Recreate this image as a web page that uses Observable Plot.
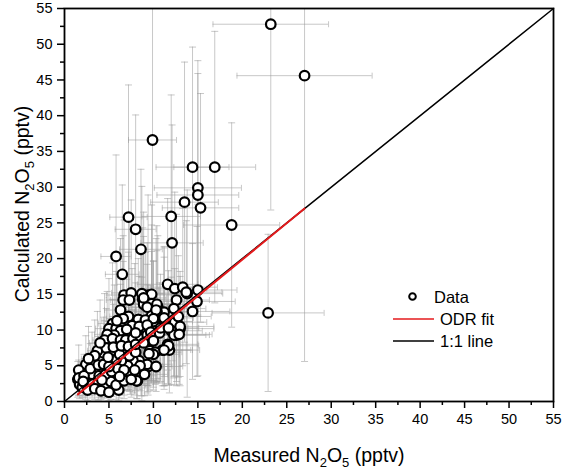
<!DOCTYPE html>
<html><head><meta charset="utf-8">
<script src="https://cdn.jsdelivr.net/npm/d3@7"></script>
<script src="https://cdn.jsdelivr.net/npm/@observablehq/plot@0.6"></script>
<style>
body{margin:0;background:#fff;}
#chart{width:565px;height:470px;}
</style>
</head><body><div id="chart"></div>
<script>
// Measured N2O5 (pptv)
const measured = [23.2,27.0,9.9,14.4,16.9,15.0,15.0,13.5,15.3,18.8,7.2,8.0,8.6,12.0,12.1,5.8,6.5,22.9,
11.6,12.4,13.3,13.8,15.0,6.7,7.5,6.6,7.3,8.8,9.4,9.8,8.7,8.9,9.8,10.5,11.2,12.6,14.4,14.9,6.3,10.4,
9.8,7.9,8.6,8.7,10.0,11.2,12.4,13.0,12.6,5.4,5.0,5.8,6.3,5.6,4.8,4.5,5.4,6.3,6.9,7.7,
8.6,9.3,11.6,11.8,11.0,9.6,10.2,8.4,7.7,9.4,8.7,7.1,6.4,6.9,5.2,4.4,3.7,3.1,2.4,1.6,
1.5,1.7,6.1,8.2,13.7,8.9,9.3,10.4,12.3,10.3,8.3,9.1,10.0,11.2,12.8,7.6,8.4,9.3,13.0,12.0,
9.7,7.2,6.6,5.9,7.0,12.3,12.9,11.7,11.2,10.0,9.5,9.3,8.5,7.4,8.1,1.6,2.4,3.1,3.8,4.5,
5.2,5.8,6.7,7.5,3.1,3.9,4.6,5.3,6.0,6.7,2.0,2.6,3.4,4.1,5.0,2.2,2.9,3.8,4.4,5.0,
5.8,6.2,7.3,8.0,4.7,5.5,6.4,7.2,8.0,8.9,10.0,10.7,3.4,2.7,4.0,4.9,8.0,10.8,11.7,9.0,
10.3,2.1,4.2,7.9,6.2];
// Calculated N2O5 (pptv)
const calculated = [52.8,45.6,36.6,32.8,32.8,29.9,28.9,27.9,27.1,24.7,25.8,24.1,21.3,25.9,22.2,20.3,17.8,12.4,
16.4,15.8,16.0,15.1,15.6,14.9,15.2,14.2,14.2,14.3,14.9,15.0,15.1,13.6,13.7,13.2,12.5,14.2,12.6,14.0,12.8,12.6,
12.0,11.3,11.3,10.4,11.2,11.2,11.1,10.2,9.3,10.9,10.2,10.2,9.9,9.3,9.4,8.6,8.8,8.6,8.6,8.8,
8.8,9.3,8.0,7.2,7.2,7.1,6.9,5.7,5.7,4.9,4.8,5.0,5.7,7.1,5.7,6.8,7.1,5.7,5.2,4.4,
3.1,2.4,1.6,2.9,15.3,14.5,13.2,13.6,13.0,12.8,11.5,11.4,11.6,11.7,11.9,10.6,10.5,10.7,10.5,9.9,
9.7,11.9,11.6,11.3,10.1,9.3,9.4,7.8,7.2,6.6,6.7,5.2,5.0,4.0,2.9,3.3,2.3,2.5,2.7,2.0,
2.8,2.3,2.9,3.1,3.8,3.6,3.8,4.2,4.6,4.4,2.0,1.6,1.8,1.5,1.3,3.6,4.6,5.1,5.2,4.9,
5.9,6.6,6.4,6.9,7.5,7.6,7.8,7.7,8.0,8.2,8.5,9.6,6.4,6.0,8.2,6.2,9.6,10.3,10.3,3.8,
4.9,2.8,3.0,4.4,3.5];
// Uncertainty of measured values (pptv)
const errMeasured = [6.5,7.6,2.7,4.1,4.6,4.9,4.6,3.8,4.3,5.4,2.1,2.3,2.4,3.3,3.5,1.7,1.9,6.3,
3.4,3.6,3.9,4.0,4.4,2.0,2.2,1.9,2.1,2.6,2.7,2.9,2.5,2.6,2.8,3.0,3.3,3.7,4.2,4.3,1.8,3.0,
2.8,2.3,2.5,2.5,2.9,3.2,3.6,3.8,3.7,1.6,1.5,1.7,1.8,1.6,1.4,1.3,1.6,1.8,2.0,2.2,
2.5,2.7,3.4,3.4,3.2,2.8,3.0,2.4,2.2,2.7,2.5,2.1,1.9,2.0,1.5,1.3,1.1,0.9,0.7,0.5,
0.5,0.5,1.8,2.4,4.0,2.6,2.7,3.0,3.6,3.0,2.4,2.6,2.9,3.3,3.7,2.2,2.4,2.7,3.8,3.5,
2.8,2.1,1.9,1.7,2.0,3.6,3.7,3.4,3.2,2.9,2.8,2.7,2.5,2.1,2.3,0.5,0.7,0.9,1.1,1.3,
1.5,1.7,2.0,2.2,0.9,1.1,1.3,1.5,1.7,1.9,0.6,0.8,1.0,1.2,1.5,0.6,0.8,1.1,1.3,1.5,
1.7,1.8,2.1,2.3,1.4,1.6,1.9,2.1,2.3,2.6,2.9,3.1,1.0,0.8,1.2,1.4,2.3,3.1,3.4,2.6,
3.0,0.6,1.2,2.3,1.8];
// Uncertainty of calculated values (pptv)
const errCalculated = [26,40,22,16.8,19,17.8,17,19.6,16,14.3,18.5,16,11.2,17,16.5,14.2,12.5,11,
12,13.5,11,14.5,12,10.5,13,9,11.5,10,14,12.5,15,9.5,11,10,9,12,9.5,10.5,10,8.5,
9,8,10.5,7,8.5,9,7.5,8,6.5,8.5,7,8,6.5,7,6,6.5,5.5,6,7,5.5,
6.5,7,5.5,6,5,5.5,4.5,4,4.5,3.5,4,3.5,4.5,5,4,5,5.5,4,4,3.5,
2.5,2,1.5,2.5,10,12,9,11,9.5,10,8.5,9.5,8,10,8.5,8,7,8.5,7,7.5,
6.5,9,8,9.5,7,6,7,5.5,5,5,4.5,4,3.5,3,2.5,2.5,2,2,2.5,1.5,
2.5,2,2.5,2.5,3,3,3,3.5,3.5,3.5,1.5,1.5,1.5,1.2,1.2,3,3.5,4,4,4,
4.5,5,5,5,5.5,6,6,6,6.5,6,6.5,7,5,4.5,6,5,7,7.5,8,3,
3.5,2,2.5,3.5,3];
// ODR fit endpoints and 1:1 line
const fitX = [1.5, 27.0];
const fitY = [1.0, 27.0];
const oneToOne = [0, 55];
const majorTicks = [0,5,10,15,20,25,30,35,40,45,50,55];
const minorTicks = [2.5,7.5,12.5,17.5,22.5,27.5,32.5,37.5,42.5,47.5,52.5];
const legendLabels = ["Data", "ODR fit", "1:1 line"];
const xTitleParts = [["Measured N",0],["2",1],["O",0],["5",1],[" (pptv)",0]];
const yTitleParts = [["Calculated N",0],["2",1],["O",0],["5",1],[" (pptv)",0]];

const pts = measured.map((x, i) => ({x, y: calculated[i], xe: errMeasured[i], ye: errCalculated[i]}));
const fitPts = fitX.map((x, i) => ({x, y: fitY[i]}));
const idPts = oneToOne.map(v => ({x: v, y: v}));

const hcap = {draw(ctx) { ctx.moveTo(-3.5, 0); ctx.lineTo(3.5, 0); }};
const vcap = {draw(ctx) { ctx.moveTo(0, -3); ctx.lineTo(0, 3); }};
const errStyle = {stroke: "#9a9a9a", strokeOpacity: 0.55, strokeWidth: 1, clip: true};

const plot = Plot.plot({
  width: 565, height: 470,
  marginLeft: 64, marginRight: 12, marginTop: 8, marginBottom: 69,
  style: {fontFamily: "'Liberation Sans', Arial, sans-serif", fontSize: "14.5px", color: "black", background: "white"},
  x: {domain: [0, 55]},
  y: {domain: [0, 55]},
  marks: [
    Plot.ruleX(pts, {x: "x", y1: d => d.y - d.ye, y2: d => d.y + d.ye, ...errStyle}),
    Plot.ruleY(pts, {y: "y", x1: d => d.x - d.xe, x2: d => d.x + d.xe, ...errStyle}),
    Plot.dot(pts, {x: "x", y: d => d.y + d.ye, symbol: hcap, fill: "none", ...errStyle}),
    Plot.dot(pts, {x: "x", y: d => d.y - d.ye, symbol: hcap, fill: "none", ...errStyle}),
    Plot.dot(pts, {x: d => d.x - d.xe, y: "y", symbol: vcap, fill: "none", ...errStyle}),
    Plot.dot(pts, {x: d => d.x + d.xe, y: "y", symbol: vcap, fill: "none", ...errStyle}),
    Plot.dot(pts, {x: "x", y: "y", r: 4.8, stroke: "black", strokeWidth: 2.2, fill: "white"}),
    Plot.line(idPts, {x: "x", y: "y", stroke: "black", strokeWidth: 1.5}),
    Plot.line(fitPts, {x: "x", y: "y", stroke: "#e41a1c", strokeWidth: 2}),
    Plot.axisX({ticks: minorTicks, tickSize: 4, tickFormat: () => "", strokeWidth: 1.5, label: null}),
    Plot.axisY({ticks: minorTicks, tickSize: 4, tickFormat: () => "", strokeWidth: 1.5, label: null}),
    Plot.axisX({ticks: majorTicks, tickSize: 7, tickPadding: 5, strokeWidth: 1.5, fontSize: 14.5, label: null}),
    Plot.axisY({ticks: majorTicks, tickSize: 7, tickPadding: 5, strokeWidth: 1.5, fontSize: 14.5, label: null}),
    Plot.frame({stroke: "black", strokeWidth: 1.8})
  ]
});
document.getElementById("chart").appendChild(plot);

const svg = d3.select(plot);
function addTitle(parts, attrs) {
  const t = svg.append("text")
    .attr("text-anchor", "middle")
    .attr("font-family", "'Liberation Sans', Arial, sans-serif")
    .attr("font-size", 19.5)
    .attr("fill", "black");
  for (const [k, v] of Object.entries(attrs)) t.attr(k, v);
  let sub = 0;
  for (const [s, isSub] of parts) {
    const ts = t.append("tspan").text(s);
    if (isSub && !sub) { ts.attr("dy", 5).attr("font-size", 13); sub = 1; }
    else if (isSub) { ts.attr("font-size", 13); }
    else if (sub) { ts.attr("dy", -5); sub = 0; }
  }
  return t;
}
addTitle(xTitleParts, {x: 309, y: 462});
addTitle(yTitleParts, {transform: "translate(29,204) rotate(-90)"});

// legend
const lg = svg.append("g").attr("font-family", "'Liberation Sans', Arial, sans-serif").attr("font-size", 16.5).attr("text-anchor", "start");
lg.append("circle").attr("cx", 412.5).attr("cy", 296.5).attr("r", 3.3).attr("fill", "white").attr("stroke", "black").attr("stroke-width", 2);
lg.append("line").attr("x1", 393).attr("x2", 434).attr("y1", 319).attr("y2", 319).attr("stroke", "#e41a1c").attr("stroke-width", 1.5);
lg.append("line").attr("x1", 393).attr("x2", 434).attr("y1", 341).attr("y2", 341).attr("stroke", "black").attr("stroke-width", 1.5);
[[434, 302.5], [440, 325], [440, 347]].forEach(([x, y], i) => {
  lg.append("text").attr("x", x).attr("y", y).attr("text-anchor", "start").attr("fill", "black").text(legendLabels[i]);
});
</script>
</body></html>
